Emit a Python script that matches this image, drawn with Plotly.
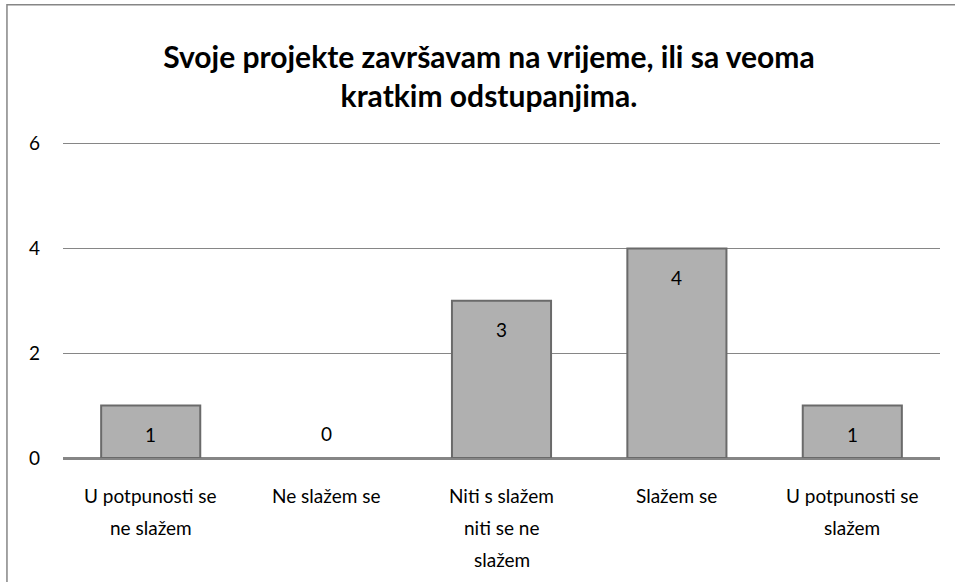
import plotly.graph_objects as go

# Data
categories = ["U potpunosti se<br>ne slažem", "Ne slažem se", "Niti s slažem<br>niti se ne<br>slažem",
              "Slažem se", "U potpunosti se<br>slažem"]
values = [1, 0, 3, 4, 1]
y_ticks = [0, 2, 4, 6]
title = "Svoje projekte završavam na vrijeme, ili sa veoma<br>kratkim odstupanjima."

font_family = "Lato, 'Open Sans', sans-serif"

fig = go.Figure()
fig.add_trace(go.Bar(
    x=categories, y=values,
    marker=dict(color="#b0b0b0",
                line=dict(color="#6a6a6a", width=[2 if v > 0 else 0 for v in values])),
    width=0.565,
    hoverinfo="x+y",
))

# value labels
for c, v in zip(categories, values):
    fig.add_annotation(x=c, y=v, text=str(v), showarrow=False, yshift=(-29 if v > 0 else 25),
                       font=dict(size=19, color="#000000", family=font_family))

# category labels, line by line for the wider line spacing
for c in categories:
    for i, line in enumerate(c.split("<br>")):
        fig.add_annotation(x=c, y=0, text=line, showarrow=False, yshift=-(37 + 32 * i),
                           font=dict(size=19, color="#000000", family=font_family))

fig.update_layout(
    width=955, height=582,
    margin=dict(l=63, r=15, t=141, b=124),
    paper_bgcolor="white", plot_bgcolor="white",
    showlegend=False,
    title=dict(text="<b>" + title + "</b>", x=0.512, xanchor="center", y=0.884, yanchor="middle",
               font=dict(size=30, family=font_family, color="#000000")),
    font=dict(family=font_family, size=19, color="#000000"),
    shapes=[dict(type="rect", xref="paper", yref="paper", x0=-0.0639, y0=-0.42, x1=1.023, y1=1.43,
                 line=dict(color="#868686", width=1.5), layer="below")],
)
fig.update_yaxes(range=[0, 6.05], tickvals=y_ticks, showgrid=True, gridcolor="#868686", gridwidth=1.2,
                 zeroline=True, zerolinecolor="#868686", zerolinewidth=1.5, showline=False,
                 ticks="", ticklabelstandoff=22, tickfont=dict(size=19))
fig.update_xaxes(showline=True, linecolor="#868686", linewidth=1.5, ticks="",
                 showticklabels=False)

fig.write_html("out.html", config={"displayModeBar": False},
               post_script="document.body.style.margin='0px';")
